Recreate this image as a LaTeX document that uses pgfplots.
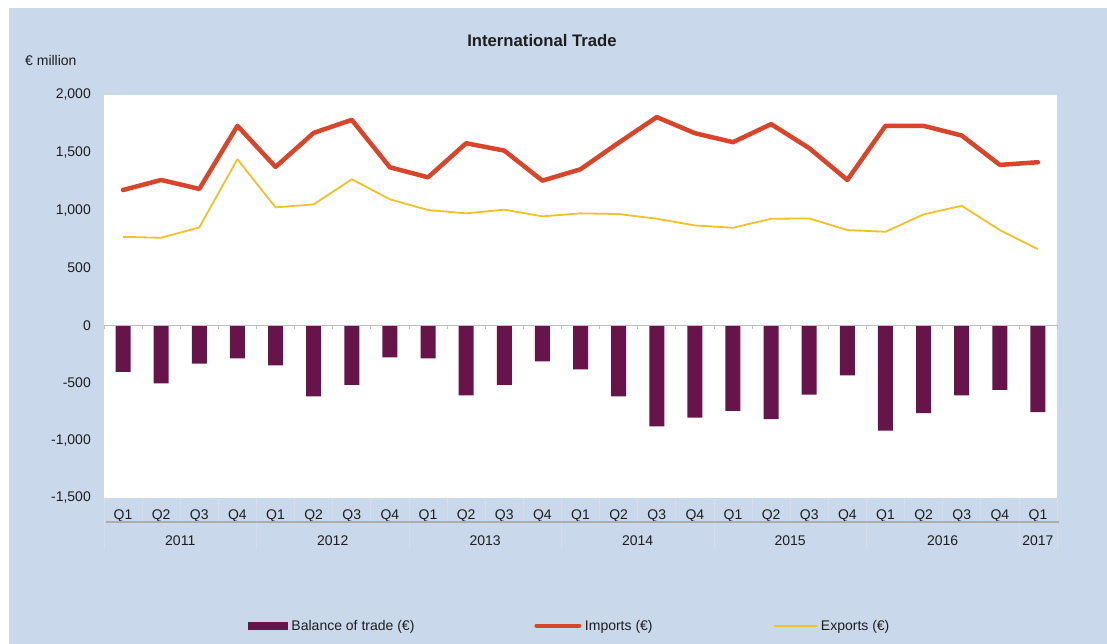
\documentclass[border=0pt]{standalone}
\usepackage{fontspec}
\setmainfont{Liberation Sans}
\usepackage{pgfplots}
\pgfplotsset{compat=1.18}
\definecolor{bg}{RGB}{201,216,234}
\definecolor{bal}{RGB}{102,20,73}
\definecolor{imp}{RGB}{217,69,43}
\definecolor{expc}{RGB}{242,192,40}
\definecolor{sepc}{RGB}{214,221,230}
\definecolor{zl}{RGB}{190,190,190}
\definecolor{gl}{RGB}{172,172,172}
\definecolor{txt}{RGB}{30,30,30}
\newcommand{\lbl}{\fontsize{14bp}{17bp}\selectfont}
\begin{document}
\begin{tikzpicture}[x=1bp,y=1bp]
\path[use as bounding box] (0,0) rectangle (1107,644);
\fill[white] (0,0) rectangle (1107,644);
\fill[bg] (9,0) rectangle (1107,636);
\node[text=txt, font=\bfseries\fontsize{16.7bp}{19bp}\selectfont] at (542,603) {International Trade};
\node[text=txt, anchor=west, inner sep=0pt, font=\lbl] at (25,583) {€ million};
\begin{axis}[
  at={(104bp,146bp)}, anchor=south west,
  scale only axis, width=953bp, height=403bp,
  xmin=-0.5, xmax=24.5, ymin=-1500, ymax=2000,
  axis line style={draw=none}, major tick length=0pt,
  axis background/.style={fill=white},
  clip=false,
  ytick={-1500,-1000,-500,0,500,1000,1500,2000},
  yticklabels={{-1,500},{-1,000},{-500},{0},{500},{1,000},{1,500},{2,000}},
  yticklabel style={anchor=east, inner sep=0pt, xshift=-13bp, font=\lbl, text=txt},
  xtick={0,...,24},
  xticklabels={Q1,Q2,Q3,Q4,Q1,Q2,Q3,Q4,Q1,Q2,Q3,Q4,Q1,Q2,Q3,Q4,Q1,Q2,Q3,Q4,Q1,Q2,Q3,Q4,Q1},
  xticklabel style={anchor=base, inner sep=0pt, yshift=-22bp, font=\lbl, text=txt},
  legend columns=3,
  legend style={draw=none, fill=none, at={(0.1511,-0.317)}, anchor=west,
    inner sep=0pt, outer sep=0pt, font=\lbl, text=txt,
    /tikz/every even column/.append style={column sep=118bp},
    /tikz/every odd column/.append style={column sep=1.5bp},
    nodes={inner sep=2bp}},
]
\addplot[ybar, bar width=15bp, bar shift=0pt, fill=bal, draw=none,
  legend image code/.code={\fill[bal] (0bp,-4bp) rectangle (40bp,4bp);}]
  coordinates {(0,-404) (1,-505) (2,-334) (3,-287) (4,-348) (5,-618) (6,-517)
  (7,-279) (8,-287) (9,-609) (10,-517) (11,-313) (12,-383) (13,-618) (14,-879)
  (15,-801) (16,-743) (17,-815) (18,-603) (19,-435) (20,-914) (21,-763)
  (22,-609) (23,-560) (24,-754)};
\addlegendentry{Balance of trade (€)}
\addplot[imp, line width=4.5bp, line join=round, line cap=round, mark=none,
  legend image code/.code={\draw[imp, line width=4bp] (0bp,0bp) -- (43bp,0bp);}]
  coordinates {(0,1175) (1,1262) (2,1184) (3,1732) (4,1375) (5,1671) (6,1784)
  (7,1372) (8,1285) (9,1581) (10,1517) (11,1256) (12,1355) (13,1585) (14,1808)
  (15,1668) (16,1590) (17,1747) (18,1538) (19,1262) (20,1732) (21,1732)
  (22,1648) (23,1393) (24,1416)};
\addlegendentry{Imports (€)}
\addplot[expc, line width=1.8bp, line join=round, mark=none,
  legend image code/.code={\draw[expc, line width=1.8bp] (0bp,0bp) -- (43bp,0bp);}]
  coordinates {(0,768) (1,760) (2,850) (3,1442) (4,1024) (5,1050) (6,1268)
  (7,1094) (8,1001) (9,972) (10,1004) (11,946) (12,972) (13,966) (14,925)
  (15,867) (16,847) (17,925) (18,928) (19,827) (20,812) (21,963) (22,1038)
  (23,827) (24,661)};
\addlegendentry{Exports (€)}
\draw[zl, line width=1bp] (axis cs:-0.5,0) -- (axis cs:24.5,0);
\pgfplotsinvokeforeach{-0.5,0.5,1.5,2.5,3.5,4.5,5.5,6.5,7.5,8.5,9.5,10.5,11.5,12.5,13.5,14.5,15.5,16.5,17.5,18.5,19.5,20.5,21.5,22.5,23.5,24.5}{
  \draw[zl, line width=0.8bp] (axis cs:#1,0) -- ([yshift=-4bp]axis cs:#1,0);
  \draw[sepc, line width=0.8bp] (axis cs:#1,-1500) -- ([yshift=-24bp]axis cs:#1,-1500);
}
\pgfplotsinvokeforeach{-0.5,3.5,7.5,11.5,15.5,19.5,23.5,24.5}{
  \draw[sepc, line width=0.8bp] ([yshift=-24bp]axis cs:#1,-1500) -- ([yshift=-51bp]axis cs:#1,-1500);
}
\draw[gl, line width=2bp] ([xshift=2bp,yshift=-24bp]axis cs:-0.5,-1500) -- ([xshift=2bp,yshift=-24bp]axis cs:24.5,-1500);
\node[anchor=base, inner sep=0pt, font=\lbl, text=txt, yshift=-48bp] at (axis cs:1.5,-1500) {2011};
\node[anchor=base, inner sep=0pt, font=\lbl, text=txt, yshift=-48bp] at (axis cs:5.5,-1500) {2012};
\node[anchor=base, inner sep=0pt, font=\lbl, text=txt, yshift=-48bp] at (axis cs:9.5,-1500) {2013};
\node[anchor=base, inner sep=0pt, font=\lbl, text=txt, yshift=-48bp] at (axis cs:13.5,-1500) {2014};
\node[anchor=base, inner sep=0pt, font=\lbl, text=txt, yshift=-48bp] at (axis cs:17.5,-1500) {2015};
\node[anchor=base, inner sep=0pt, font=\lbl, text=txt, yshift=-48bp] at (axis cs:21.5,-1500) {2016};
\node[anchor=base, inner sep=0pt, font=\lbl, text=txt, yshift=-48bp] at (axis cs:24,-1500) {2017};
\end{axis}
\end{tikzpicture}
\end{document}
